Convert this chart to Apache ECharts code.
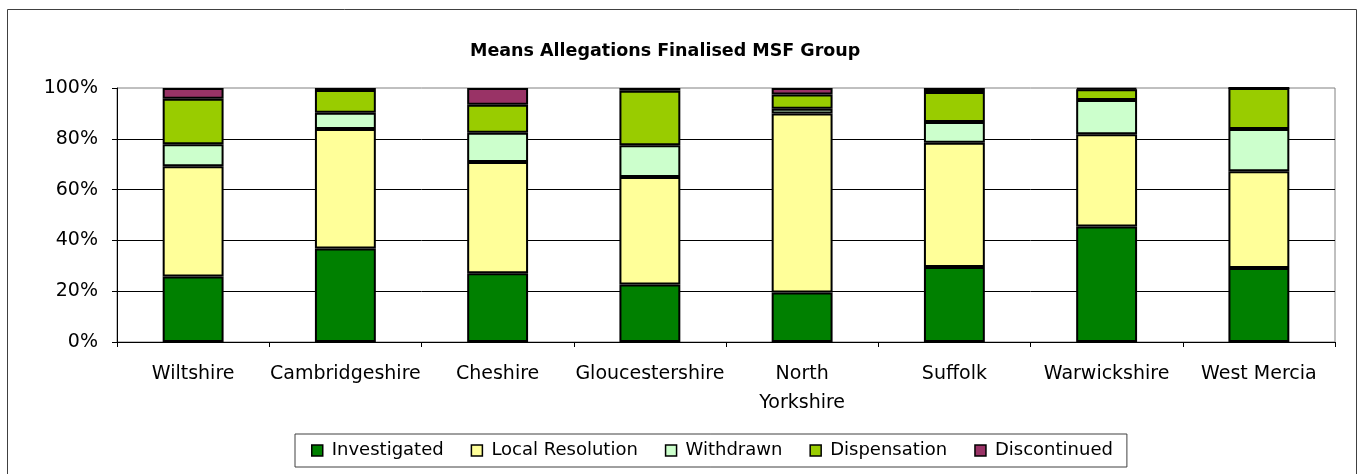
<!DOCTYPE html>
<html>
<head>
<meta charset="utf-8">
<script src="https://cdn.jsdelivr.net/npm/echarts@6/dist/echarts.min.js"></script>
<style>
  html, body { margin: 0; padding: 0; background: #fff; }
  #main { width: 1358px; height: 474px; }
</style>
</head>
<body>
<div id="main"></div>
<script>
// categories
var areas = ['Wiltshire', 'Cambridgeshire', 'Cheshire', 'Gloucestershire', 'North\nYorkshire', 'Suffolk', 'Warwickshire', 'West Mercia']
// share of finalised allegations per outcome (%)
var investigated = [25.8, 36.8, 27.1, 22.6, 19.5, 29.5, 45.5, 29.1]
var localResolution = [43.4, 47.1, 43.8, 42.4, 70.5, 48.9, 36.3, 38.1]
var withdrawn = [8.7, 6.4, 11.5, 12.5, 1.8, 8.2, 13.5, 16.7]
var dispensation = [17.9, 8.9, 11.0, 21.4, 5.6, 11.8, 4.2, 16.1]
var discontinued = [4.2, 0.8, 6.6, 1.1, 2.6, 1.6, 0.5, 0]
var yTicks = [0, 20, 40, 60, 80, 100]

var font = 'DejaVu Sans'

function bar(name, data, color) {
  return {
    name: name,
    type: 'bar',
    stack: 'total',
    barWidth: '40%',
    data: data,
    itemStyle: { color: color, borderColor: '#000', borderWidth: 2 }
  }
}

var myChart = echarts.init(document.getElementById('main'))
var option = {
  animation: false,
  backgroundColor: '#fff',
  title: {
    text: 'Means Allegations Finalised MSF Group',
    left: 465,
    top: 37,
    textStyle: { fontFamily: font, fontSize: 17.5, fontWeight: 'bold', color: '#000' }
  },
  // outer chart frame
  graphic: [{
    type: 'rect',
    z: -10,
    shape: { x: 7.5, y: 9.5, width: 1349, height: 500 },
    style: { fill: 'none', stroke: '#404040', lineWidth: 1 }
  }],
  grid: {
    left: 117,
    right: 23,
    top: 88,
    bottom: 132,
    show: true,
    borderColor: '#808080',
    borderWidth: 1
  },
  legend: {
    left: 295,
    top: 434,
    padding: [6, 14, 6, 16],
    itemGap: 27,
    itemWidth: 11,
    itemHeight: 11,
    borderColor: '#404040',
    borderWidth: 1,
    icon: 'rect',
    itemStyle: { borderColor: '#000', borderWidth: 1.5 },
    textStyle: { fontFamily: font, fontSize: 18, color: '#000', padding: [0, 0, 0, 4], lineHeight: 21 },
    data: ['Investigated', 'Local Resolution', 'Withdrawn', 'Dispensation', 'Discontinued']
  },
  xAxis: {
    type: 'category',
    data: areas,
    axisLine: { lineStyle: { color: '#000', width: 1 } },
    axisTick: { show: true, length: 5, lineStyle: { color: '#000' } },
    axisLabel: { fontFamily: font, fontSize: 19, color: '#000', margin: 18, lineHeight: 29, interval: 0 }
  },
  yAxis: {
    type: 'value',
    min: yTicks[0],
    max: yTicks[yTicks.length - 1],
    interval: 20,
    axisLine: { show: true, lineStyle: { color: '#000', width: 1 } },
    axisTick: { show: true, length: 5, lineStyle: { color: '#000' } },
    axisLabel: { fontFamily: font, fontSize: 19, color: '#000', margin: 19, formatter: '{value}%' },
    splitLine: { show: true, showMaxLine: false, lineStyle: { color: '#000', width: 1 } }
  },
  series: [
    bar('Investigated', investigated, '#008000'),
    bar('Local Resolution', localResolution, '#FFFF99'),
    bar('Withdrawn', withdrawn, '#CCFFCC'),
    bar('Dispensation', dispensation, '#99CC00'),
    bar('Discontinued', discontinued, '#993366')
  ]
}
myChart.setOption(option)
</script>
</body>
</html>
